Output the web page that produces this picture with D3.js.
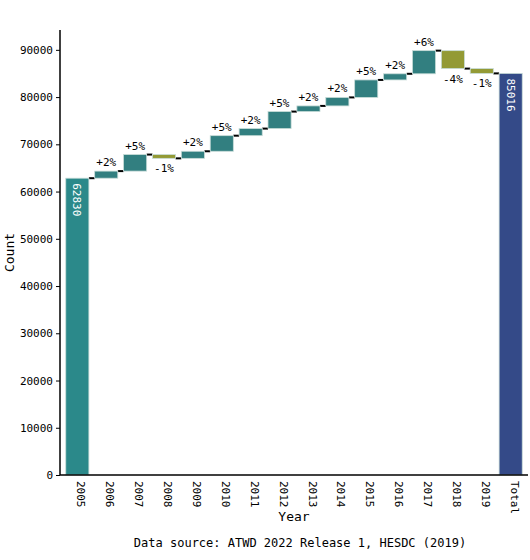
<!DOCTYPE html>
<html>
<head>
<meta charset="utf-8">
<script src="https://cdn.jsdelivr.net/npm/d3@7"></script>
<style>
  body { margin: 0; background: white; }
  text { font-family: "DejaVu Sans Mono", monospace; }
</style>
</head>
<body>
<svg width="530" height="560"></svg>
<script>
// Data
const years = ["2005", "2006", "2007", "2008", "2009", "2010", "2011", "2012",
    "2013", "2014", "2015", "2016", "2017", "2018", "2019", "Total"]
const start_value = 62830
const changes = [1500, 3500, -800, 1500, 3300, 1500, 3600, 1200, 1800, 3700, 1300, 4900, -3800, -1014]
const y_ticks = [0, 10000, 20000, 30000, 40000, 50000, 60000, 70000, 80000, 90000]

const width = 530, height = 560
const margin = { top: 30, right: 2, bottom: 85, left: 60 }

// Build the steps
const steps = []
let running = start_value
steps.push({ year: years[0], y0: 0, y1: start_value, kind: "start" })
changes.forEach(function(c, i) {
    steps.push({ year: years[i + 1], y0: running, y1: running + c, kind: c >= 0 ? "up" : "down",
        pct: Math.round(c / running * 100) })
    running += c
})
steps.push({ year: "Total", y0: 0, y1: running, kind: "total" })

const colors = { start: "#2b898a", up: "#327f80", down: "#939a35", total: "#344a88" }

const svg = d3.select("svg")

const x = d3.scaleBand()
    .domain(years)
    .range([margin.left, width - margin.right])
    .padding(0.2)

const y = d3.scaleLinear()
    .domain([0, 94200])
    .range([height - margin.bottom, margin.top])

// Connectors
svg.append("g").selectAll("line")
    .data(steps.slice(0, -1))
    .enter()
    .append("line")
    .attr("x1", d => x(d.year) + x.bandwidth())
    .attr("x2", (d, i) => x(steps[i + 1].year))
    .attr("y1", d => y(d.y1))
    .attr("y2", d => y(d.y1))
    .style("stroke", "black")
    .style("stroke-width", 2)

// Bars
svg.append("g").selectAll("rect")
    .data(steps)
    .enter()
    .append("rect")
    .attr("x", d => x(d.year))
    .attr("width", x.bandwidth())
    .attr("y", d => y(Math.max(d.y0, d.y1)))
    .attr("height", d => Math.abs(y(d.y0) - y(d.y1)))
    .attr("fill", d => colors[d.kind])
    .style("stroke", "#c8dcd8")
    .style("stroke-width", 0.8)

// Percentage labels
svg.append("g").selectAll("text")
    .data(steps.filter(d => d.kind == "up" || d.kind == "down"))
    .enter()
    .append("text")
    .attr("x", d => x(d.year) + x.bandwidth() / 2)
    .attr("y", d => d.kind == "up" ? y(d.y1) - 5 : y(d.y1) + 14)
    .attr("text-anchor", "middle")
    .attr("font-size", "11px")
    .text(d => (d.pct >= 0 ? "+" : "") + d.pct + "%")

// Value labels inside first and total bars
svg.append("g").selectAll("text")
    .data(steps.filter(d => d.kind == "start" || d.kind == "total"))
    .enter()
    .append("text")
    .attr("transform", d => "translate(" + (x(d.year) + x.bandwidth() / 2 - 4) + "," + (y(d.y1) + 5) + ") rotate(90)")
    .attr("fill", "white")
    .attr("font-size", "11px")
    .text(d => String(d.y1).replace(/0/g, "0"))

// Axes
const y_axis = svg.append("g")
    .attr("transform", "translate(" + margin.left + ",0)")
    .call(d3.axisLeft(y).tickValues(y_ticks).tickSize(4).tickFormat(d3.format("d")))
y_axis.selectAll("text").attr("font-size", "11px").attr("font-family", "DejaVu Sans Mono")
y_axis.select(".domain").attr("d", "M0," + margin.top + "V" + (height - margin.bottom)).style("stroke-width", 1.5)

const x_axis = svg.append("g")
    .attr("transform", "translate(0," + (height - margin.bottom) + ")")
    .call(d3.axisBottom(x).tickSize(0))
x_axis.select(".domain").attr("d", "M" + margin.left + ",0H" + (width - margin.right)).style("stroke-width", 1.5)
x_axis.selectAll("text")
    .attr("font-size", "11px")
    .attr("font-family", "DejaVu Sans Mono")
    .attr("transform", "rotate(90)")
    .attr("x", 6)
    .attr("y", -4)
    .attr("dy", "0.35em")
    .style("text-anchor", "start")

// Axis titles
svg.append("text")
    .attr("transform", "translate(14," + ((margin.top + height - margin.bottom) / 2) + ") rotate(-90)")
    .attr("text-anchor", "middle")
    .attr("font-size", "13px")
    .text("Count")

svg.append("text")
    .attr("x", (margin.left + width - margin.right) / 2)
    .attr("y", 521)
    .attr("text-anchor", "middle")
    .attr("font-size", "13px")
    .text("Year")

svg.append("text")
    .attr("x", 300)
    .attr("y", 547)
    .attr("text-anchor", "middle")
    .attr("font-size", "12px")
    .text("Data source: ATWD 2022 Release 1, HESDC (2019)")
</script>
</body>
</html>
